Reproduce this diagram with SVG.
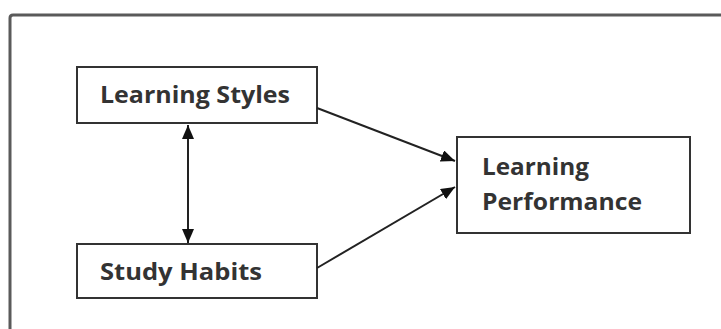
<svg xmlns="http://www.w3.org/2000/svg" width="721" height="329" viewBox="0 0 721 329">
<defs>
<style>
.box{fill:#fff;stroke:#333;stroke-width:2}
.lbl{font-family:"Open Sans","Liberation Sans",sans-serif;font-weight:700;font-size:23px;fill:#333}
.con{stroke:#222;stroke-width:2;fill:none}
</style>
<marker id="ah" viewBox="0 0 14 12" refX="14" refY="6" markerWidth="7" markerHeight="6" markerUnits="strokeWidth" orient="auto-start-reverse">
<path d="M0,0 L14,6 L0,12 Z" fill="#111"/>
</marker>
</defs>
<rect width="721" height="329" fill="#fff"/>
<path d="M10,329 L10,18 Q10,15 13,15 L721,15" fill="none" stroke="#5a5a5a" stroke-width="3"/>
<g id="learning-styles">
<rect class="box" x="77" y="67" width="240" height="56"/>
<text class="lbl" x="100" y="103" textLength="190" lengthAdjust="spacingAndGlyphs">Learning Styles</text>
</g>
<g id="study-habits">
<rect class="box" x="77" y="244" width="240" height="54"/>
<text class="lbl" x="100" y="280" textLength="162" lengthAdjust="spacingAndGlyphs">Study Habits</text>
</g>
<g id="learning-performance">
<rect class="box" x="457" y="137" width="233" height="96"/>
<text class="lbl" x="482" y="175" textLength="107" lengthAdjust="spacingAndGlyphs">Learning</text>
<text class="lbl" x="482" y="210" textLength="160" lengthAdjust="spacingAndGlyphs">Performance</text>
</g>
<g id="connectors">
<line class="con" x1="188" y1="125" x2="188" y2="243" marker-start="url(#ah)" marker-end="url(#ah)"/>
<line class="con" x1="317" y1="108" x2="455" y2="161" marker-end="url(#ah)"/>
<line class="con" x1="317" y1="268" x2="455" y2="187" marker-end="url(#ah)"/>
</g>
</svg>
